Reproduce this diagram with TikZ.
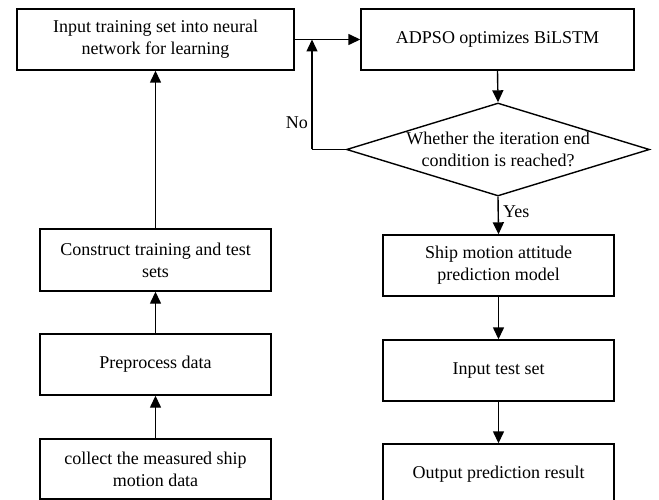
\documentclass[tikz,border=0pt]{standalone}
\usepackage{fontspec}
\setmainfont{Liberation Serif}
\usetikzlibrary{shapes.geometric,arrows.meta}
\begin{document}
\begin{tikzpicture}[x=1pt,y=-1pt,
  box/.style={draw,line width=1.4pt,align=center,inner sep=2pt,font=\fontsize{18}{22}\selectfont},
  lbl/.style={font=\fontsize{18}{20}\selectfont,inner sep=1pt},
  arr/.style={line width=1.4pt,-{Triangle[length=12pt,width=11pt]}},
  ln/.style={line width=1.4pt}]
\useasboundingbox (0,0) rectangle (659,500);
\clip (0,0) rectangle (659,500);
\node[box,minimum width=277pt,minimum height=61pt] (in) at (155.5,39.5) {Input training set into neural\\network for learning};
\node[box,minimum width=273pt,minimum height=61pt] (ad) at (497.5,39.5) {ADPSO optimizes BiLSTM};
\node[draw,line width=1.4pt,shape=diamond,aspect=3.26,inner sep=0pt,minimum width=303pt,minimum height=93pt,align=center,font=\fontsize{18}{22}\selectfont] (dia) at (498,149.5) {Whether the iteration end\\condition is reached?};
\node[box,minimum width=231pt,minimum height=61pt] (sm) at (498.5,265.5) {Ship motion attitude\\prediction model};
\node[box,minimum width=231pt,minimum height=61pt] (it) at (498.5,370.5) {Input test set};
\node[box,minimum width=231pt,minimum height=61pt] (op) at (498.5,474.5) {Output prediction result};
\node[box,minimum width=231pt,minimum height=62pt] (ct) at (155.5,260) {Construct training and test\\sets};
\node[box,minimum width=231pt,minimum height=61pt] (pp) at (155.5,364.5) {Preprocess data};
\node[box,minimum width=231pt,minimum height=60pt] (cm) at (155.5,469) {collect the measured ship\\motion data};
\coordinate (j) at (312,39.5);
\coordinate (nc) at (312,149.5);
\draw[arr] (in.east) -- (ad.west);
\draw[arr] (ad.south) -- (dia.north);
\draw[ln] (dia.west) -- (nc);
\draw[arr] (nc) -- (j);
\node[lbl,anchor=east] (no) at (309,123) {No};
\draw[arr] (dia.south) -- (sm.north);
\node[lbl,anchor=west] (yes) at (502,212) {Yes};
\draw[arr] (sm.south) -- (it.north);
\draw[arr] (it.south) -- (op.north);
\draw[arr] (cm.north) -- (pp.south);
\draw[arr] (pp.north) -- (ct.south);
\draw[arr] (ct.north) -- (in.south);
\end{tikzpicture}
\end{document}
